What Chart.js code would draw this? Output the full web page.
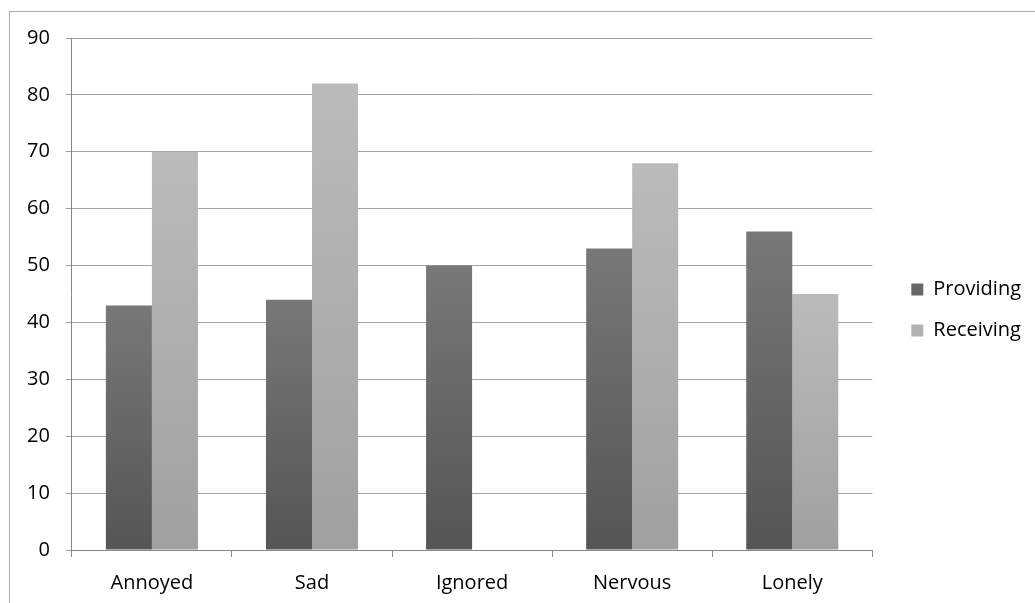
<!DOCTYPE html>
<html>
<head>
<meta charset="utf-8">
<script src="https://cdn.jsdelivr.net/npm/chart.js@4"></script>
<style>
  html, body { margin: 0; padding: 0; background: #ffffff; }
  #wrap { width: 1035px; height: 603px; }
</style>
</head>
<body>
<div id="wrap"><canvas id="myChart"></canvas></div>
<script>
// datos
const categorias = ['Annoyed', 'Sad', 'Ignored', 'Nervous', 'Lonely'];
const providing = [43, 44, 50, 53, 56];
const receiving = [70, 82, 0, 68, 45];
const ticksY = [0, 10, 20, 30, 40, 50, 60, 70, 80, 90];

// degradado vertical por barra
function degradado(arriba, abajo, solido) {
    return function(context) {
        if (context.type !== 'data') return solido;
        const chart = context.chart;
        if (!chart.chartArea) return solido;
        const y = chart.scales.y;
        const top = y.getPixelForValue(context.raw);
        const base = y.getPixelForValue(0);
        if (Math.abs(base - top) < 1) return solido;
        const g = chart.ctx.createLinearGradient(0, top, 0, base);
        g.addColorStop(0, arriba);
        g.addColorStop(1, abajo);
        return g;
    };
}

// marco exterior del grafico
const marco = {
    id: 'marco',
    beforeDraw(chart) {
        const c = chart.ctx;
        c.save();
        c.strokeStyle = '#ababab';
        c.lineWidth = 1;
        c.strokeRect(9.5, 11.5, 2000, 2000);
        c.restore();
    }
};

const fuente = { family: '"Open Sans", sans-serif', size: 20 };

new Chart(document.getElementById('myChart').getContext('2d'), {
    type: 'bar',
    data: {
        labels: categorias,
        datasets: [
            {
                label: 'Providing',
                data: providing,
                backgroundColor: degradado('#787878', '#555555', '#686868'),
                borderWidth: 0,
                barPercentage: 1,
                categoryPercentage: 0.575
            },
            {
                label: 'Receiving',
                data: receiving,
                backgroundColor: degradado('#bbbbbb', '#a0a0a0', '#b2b2b2'),
                borderWidth: 0,
                barPercentage: 1,
                categoryPercentage: 0.575
            }
        ]
    },
    options: {
        responsive: true,
        maintainAspectRatio: false,
        animation: false,
        layout: {
            padding: { top: 38, left: 11, right: 4, bottom: -6 }
        },
        plugins: {
            tooltip: { enabled: false },
            legend: {
                position: 'right',
                align: 'start',
                title: { display: true, text: '', padding: { top: 0, bottom: 206 }, font: { size: 12 } },
                labels: {
                    boxWidth: 12,
                    boxHeight: 12,
                    padding: 21,
                    color: '#000000',
                    font: fuente,
                    generateLabels: function(chart) {
                        const solidos = ['#686868', '#b2b2b2'];
                        return chart.data.datasets.map((ds, i) => ({
                            text: ds.label,
                            fillStyle: solidos[i],
                            strokeStyle: solidos[i],
                            fontColor: '#000000',
                            lineWidth: 0,
                            hidden: false,
                            datasetIndex: i
                        }));
                    }
                }
            }
        },
        scales: {
            x: {
                grid: {
                    display: true,
                    drawOnChartArea: false,
                    offset: true,
                    tickLength: 7,
                    color: '#8a8a8a'
                },
                border: { color: '#868686', width: 1 },
                ticks: { color: '#000000', font: fuente, padding: 14 }
            },
            y: {
                min: 0,
                max: 90,
                afterBuildTicks: function(scale) {
                    scale.ticks = ticksY.map(v => ({ value: v }));
                },
                grid: {
                    color: '#a3a3a3',
                    lineWidth: 1,
                    tickLength: 6
                },
                border: { color: '#868686', width: 1 },
                ticks: { color: '#000000', font: fuente, padding: 16 }
            },
            // eje vacio para dejar hueco entre el area y la leyenda
            hueco: {
                type: 'linear',
                position: 'right',
                display: true,
                grid: { display: false },
                border: { display: false },
                ticks: { display: false },
                afterFit: function(scale) { scale.width = 18; }
            }
        }
    },
    plugins: [marco]
});
</script>
</body>
</html>
